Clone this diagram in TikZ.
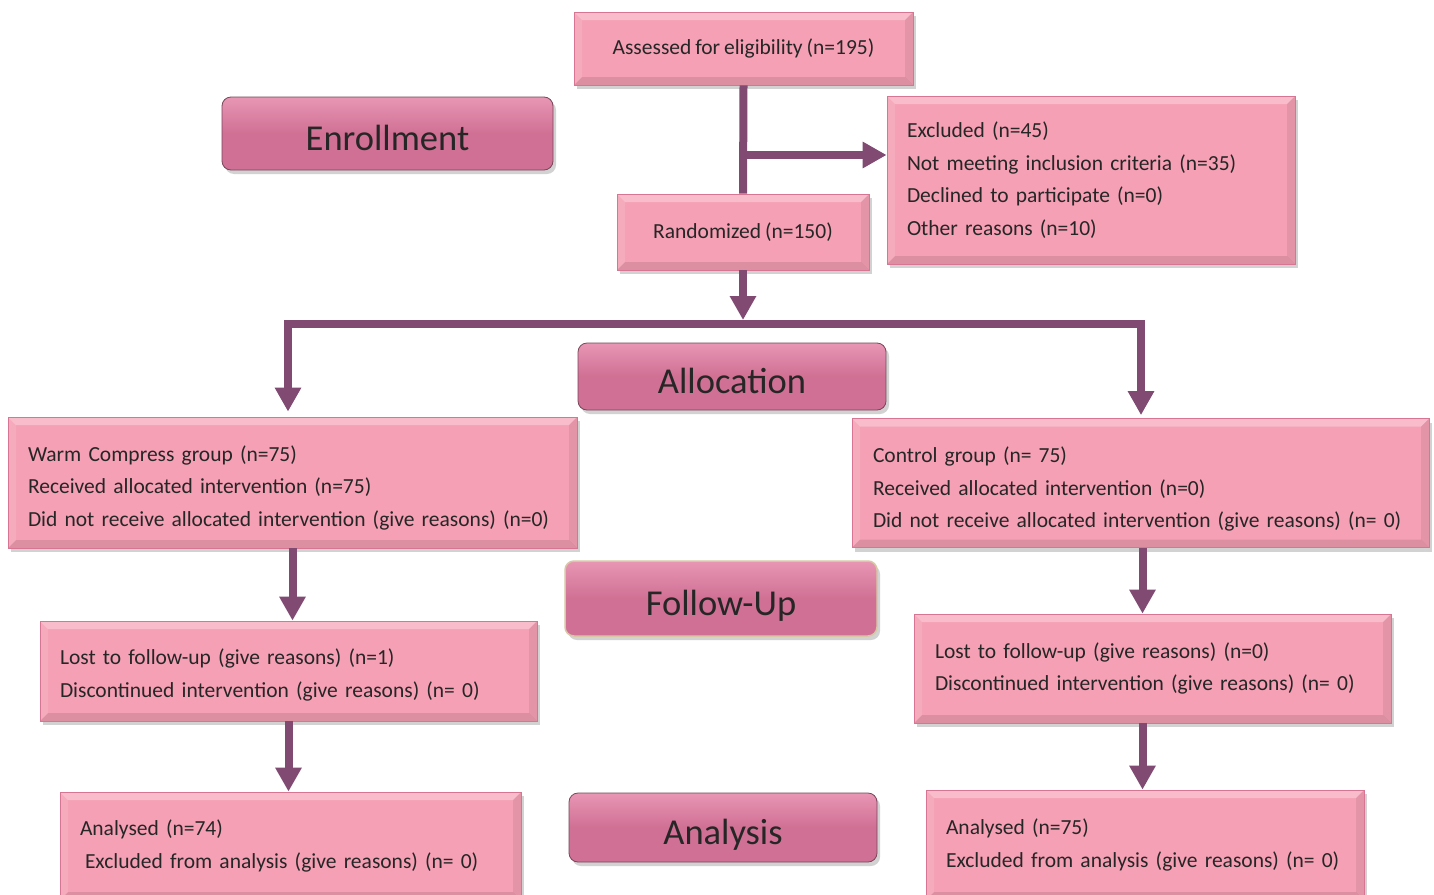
\documentclass[tikz,border=0pt]{standalone}
\usepackage{fontspec}
\setmainfont{Carlito}[WordSpace=0.8]
\usetikzlibrary{arrows.meta,shadows,calc}
\definecolor{boxfill}{RGB}{245,160,180}
\definecolor{boxedge}{RGB}{214,118,146}
\definecolor{hdrfill}{RGB}{208,112,148}
\definecolor{hdrlight}{RGB}{232,150,180}
\definecolor{hdredge}{RGB}{120,70,90}
\definecolor{fuedge}{RGB}{215,200,165}
\definecolor{conn}{RGB}{128,74,115}
\tikzset{
  bevel/.style={path picture={
    \fill[white,opacity=0.30] (path picture bounding box.north west) -- (path picture bounding box.north east)
      -- ([xshift=-8pt,yshift=-8pt]path picture bounding box.north east) -- ([xshift=8pt,yshift=-8pt]path picture bounding box.north west) -- cycle;
    \fill[black,opacity=0.10] (path picture bounding box.south west) -- (path picture bounding box.south east)
      -- ([xshift=-8pt,yshift=8pt]path picture bounding box.south east) -- ([xshift=8pt,yshift=8pt]path picture bounding box.south west) -- cycle;
    \fill[white,opacity=0.12] (path picture bounding box.north west) -- ([xshift=8pt,yshift=-8pt]path picture bounding box.north west)
      -- ([xshift=8pt,yshift=8pt]path picture bounding box.south west) -- (path picture bounding box.south west) -- cycle;
    \fill[black,opacity=0.07] (path picture bounding box.north east) -- ([xshift=-8pt,yshift=-8pt]path picture bounding box.north east)
      -- ([xshift=-8pt,yshift=8pt]path picture bounding box.south east) -- (path picture bounding box.south east) -- cycle;
  }},
  pbox/.style={rectangle, fill=boxfill, draw=boxedge, line width=0.8pt, inner sep=0pt,
    drop shadow={shadow xshift=3pt, shadow yshift=-4pt, opacity=0.35},
    bevel, font=\fontsize{21.5}{32.5}\selectfont, text=black!85},
  hdr/.style={rectangle, rounded corners=9pt, top color=hdrlight, bottom color=hdrfill, middle color=hdrfill,
    draw=hdredge, line width=0.8pt, inner sep=0pt, text height=33pt, text depth=0pt,
    drop shadow={shadow xshift=3pt, shadow yshift=-4pt, opacity=0.35},
    font=\fontsize{36.5}{40}\selectfont, text=black!85},
  link/.style={draw=conn, line width=8pt},
  arr/.style={draw=conn, line width=8pt, -{Triangle[width=25pt,length=24pt]}},
}
\begin{document}
\begin{tikzpicture}[x=1pt,y=-1pt]
\useasboundingbox (0,0) rectangle (1434,894);
\clip (0,0) rectangle (1434,894);
\fill[white] (0,0) rectangle (1434,894);

% boxes
\node[pbox, minimum width=339pt, minimum height=73pt, align=center] (assess) at (743.5,48.5) {Assessed for eligibility (n=195)};
\node[hdr, minimum width=331pt, minimum height=73pt] (enrol) at (387.5,133.5) {Enrollment};
\node[pbox, minimum width=408pt, minimum height=168pt, text width=368pt, align=left] (excl) at (1091,180)
  {\mbox{Excluded (n=45)}\\\mbox{Not meeting inclusion criteria (n=35)}\\\mbox{Declined to participate (n=0)}\\\mbox{Other reasons (n=10)}};
\node[pbox, minimum width=252pt, minimum height=76pt, align=center] (rand) at (743,232) {Randomized (n=150)};
\node[hdr, minimum width=308pt, minimum height=67pt] (alloc) at (732,376.5) {Allocation};
\node[pbox, minimum width=569pt, minimum height=131pt, text width=529pt, align=left] (warm) at (292.5,482.5)
  {\mbox{\rule{0pt}{26pt}Warm Compress group (n=75)}\\\mbox{Received allocated intervention (n=75)}\\\mbox{Did not receive allocated intervention (give reasons) (n=0)}};
\node[pbox, minimum width=577pt, minimum height=129pt, text width=535pt, align=left] (ctrl) at (1140.5,483)
  {\mbox{\rule{0pt}{28pt}Control group (n= 75)}\\\mbox{Received allocated intervention (n=0)}\\\mbox{Did not receive allocated intervention (give reasons) (n= 0)}};
\node[hdr, draw=fuedge, line width=1.5pt, minimum width=312pt, minimum height=75pt] (follow) at (721,598.5) {Follow-Up};
\node[pbox, minimum width=497pt, minimum height=100pt, text width=457pt, align=left] (lostL) at (288.5,671)
  {\mbox{\rule{0pt}{24pt}Lost to follow-up (give reasons) (n=1)}\\\mbox{Discontinued intervention (give reasons) (n= 0)}};
\node[pbox, minimum width=477pt, minimum height=109pt, text width=435pt, align=left] (lostR) at (1152.5,668.5)
  {\mbox{Lost to follow-up (give reasons) (n=0)}\\\mbox{Discontinued intervention (give reasons) (n= 0)}};
\node[pbox, minimum width=461pt, minimum height=108pt, text width=421pt, align=left] (analL) at (290.5,846)
  {\mbox{Analysed (n=74)}\\\mbox{\hspace*{5pt}Excluded from analysis (give reasons) (n= 0)}};
\node[pbox, minimum width=438pt, minimum height=110pt, text width=398pt, align=left] (analR) at (1145,845)
  {\mbox{Analysed (n=75)}\\\mbox{Excluded from analysis (give reasons) (n= 0)}};
\node[hdr, minimum width=308pt, minimum height=69pt] (analysis) at (723,827.5) {Analysis};

% connectors
\coordinate (split) at (743.5,155);
\coordinate (barL) at (288,324);
\coordinate (barM) at (743,324);
\coordinate (barR) at (1141,324);
\draw[link] (assess.south) -- (rand.north);
\draw[arr] (split) -- (split -| excl.west);
\draw[arr] (rand.south) -- ([yshift=4pt]barM);
\draw[draw=conn, line width=8pt, line join=miter, {Triangle[width=25pt,length=24pt]}-{Triangle[width=25pt,length=24pt]}]
  ([yshift=5pt]barL |- warm.north) -- (barL) -- (barR) -- ([yshift=3pt]barR |- ctrl.north);
\draw[arr] (warm.south) -- (warm.south |- lostL.north);
\draw[arr] (lostL.south) -- (lostL.south |- analL.north);
\draw[arr] ([xshift=2pt]ctrl.south) -- ([xshift=2pt]ctrl.south |- lostR.north);
\draw[arr] ([xshift=2pt]ctrl.south |- lostR.south) -- ([xshift=2pt]ctrl.south |- analR.north);
\end{tikzpicture}
\end{document}
